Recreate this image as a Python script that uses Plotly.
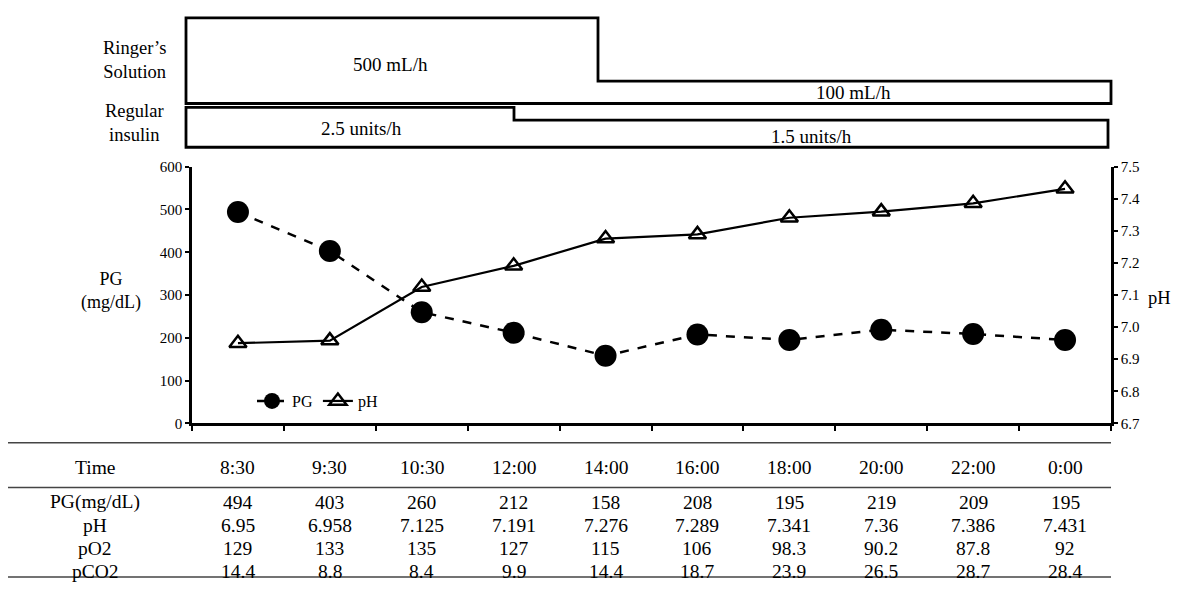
import plotly.graph_objects as go

# time points and measurements
times = ["8:30", "9:30", "10:30", "12:00", "14:00", "16:00", "18:00", "20:00", "22:00", "0:00"]
pg = [494, 403, 260, 212, 158, 208, 195, 219, 209, 195]
ph = [6.95, 6.958, 7.125, 7.191, 7.276, 7.289, 7.341, 7.36, 7.386, 7.431]
po2 = [129, 133, 135, 127, 115, 106, 98.3, 90.2, 87.8, 92]
pco2 = [14.4, 8.8, 8.4, 9.9, 14.4, 18.7, 23.9, 26.5, 28.7, 28.4]

row_labels = ["PG(mg/dL)", "pH", "pO2", "pCO2"]
rows = [pg, ph, po2, pco2]

FONT = "Liberation Serif"
PAD = 8  # page body margin
W, H = 1181 - 2 * PAD, 594 - 2 * PAD


def py_(y):
    # pixel row on the page -> paper y
    return (H - (y - PAD)) / H


def px_(x):
    # pixel column on the page -> paper x
    return (x - PAD) / W


def label(text, x, y, size, xref="paper"):
    return dict(text=text, x=x, y=py_(y), xref=xref, yref="paper",
                xanchor="center", yanchor="middle", showarrow=False,
                font=dict(size=size))


xpos = list(range(len(times)))

fig = go.Figure()

fig.add_trace(go.Scatter(
    x=xpos, y=pg, name="PG", mode="lines+markers",
    line=dict(color="black", width=2.5, dash="dash"),
    marker=dict(symbol="circle", size=22, color="black"),
))
fig.add_trace(go.Scatter(
    x=xpos, y=ph, name="pH", mode="lines+markers", yaxis="y2",
    line=dict(color="black", width=2.2),
    marker=dict(symbol="triangle-up-open", size=15, color="black",
                line=dict(width=2.5, color="black")),
))

shapes = []
annotations = []


def box_path(x0, xs, x1, yt, ys, yb):
    return "M {a},{t} L {s},{t} L {s},{m} L {e},{m} L {e},{b} L {a},{b} Z".format(
        a=px_(x0), s=px_(xs), e=px_(x1), t=py_(yt), m=py_(ys), b=py_(yb))


# infusion boxes on top
for p in [box_path(186, 598, 1111, 10, 75, 98),
          box_path(186, 514, 1108, 102, 115, 143)]:
    shapes.append(dict(type="path", path=p, xref="paper", yref="paper",
                       line=dict(color="black", width=2.8)))

annotations.append(label("500 mL/h", px_(390), 58, 19))
annotations.append(label("100 mL/h", px_(853), 87, 19))
annotations.append(label("2.5 units/h", px_(361), 124, 19))
annotations.append(label("1.5 units/h", px_(811), 132, 19))

annotations.append(label("Ringer\u2019s<br>Solution", px_(134), 53, 18.5))
annotations.append(label("Regular<br>insulin", px_(134), 118, 18.5))

# axis titles
annotations.append(label("PG<br>(mg/dL)", px_(111), 291, 18))
annotations.append(label("pH", px_(1159), 298, 18.5))

# table lines
for y in [447, 493, 585]:
    shapes.append(dict(type="line", xref="paper", yref="paper",
                       x0=px_(PAD), x1=px_(1111), y0=py_(y), y1=py_(y),
                       line=dict(color="#444", width=1.5)))

# table text
annotations.append(label("Time", px_(95), 472, 19.5))
for i, t in enumerate(times):
    annotations.append(label(t, i, 472, 19.5, xref="x"))
row_y = [508, 532, 556, 579]
for lab, vals, y in zip(row_labels, rows, row_y):
    annotations.append(label(lab, px_(95), y, 19.5))
    for i, v in enumerate(vals):
        annotations.append(label(str(v), i, y, 19.5, xref="x"))

fig.update_layout(
    width=W, height=H,
    margin=dict(l=0, r=0, t=0, b=0),
    paper_bgcolor="white", plot_bgcolor="white",
    font=dict(family=FONT, color="black", size=15),
    showlegend=True,
    legend=dict(orientation="h", x=px_(252), y=py_(404), xanchor="left", yanchor="middle",
                bgcolor="rgba(0,0,0,0)", font=dict(size=16), itemwidth=30,
                tracegroupgap=0),
    xaxis=dict(
        domain=[px_(192), px_(1111)], range=[-0.5, 9.5],
        tickvals=[i - 0.5 for i in range(11)], ticktext=[""] * 11,
        ticks="outside", ticklen=5, tickwidth=2, tickcolor="black",
        showline=True, linecolor="black", linewidth=2.5,
        showgrid=False, zeroline=False,
    ),
    yaxis=dict(
        domain=[py_(427), py_(163)], range=[0, 600], dtick=100,
        ticks="outside", ticklen=4, tickwidth=2, tickcolor="black",
        showline=True, linecolor="black", linewidth=2.5,
        showgrid=False, zeroline=False, tickfont=dict(size=15),
    ),
    yaxis2=dict(
        overlaying="y", side="right", range=[6.7, 7.5], dtick=0.1, tickformat=".1f",
        ticks="outside", ticklen=4, tickwidth=2, tickcolor="black",
        showline=True, linecolor="black", linewidth=2.5,
        showgrid=False, zeroline=False, tickfont=dict(size=15),
    ),
    shapes=shapes,
    annotations=annotations,
)

fig.write_html("out.html")
